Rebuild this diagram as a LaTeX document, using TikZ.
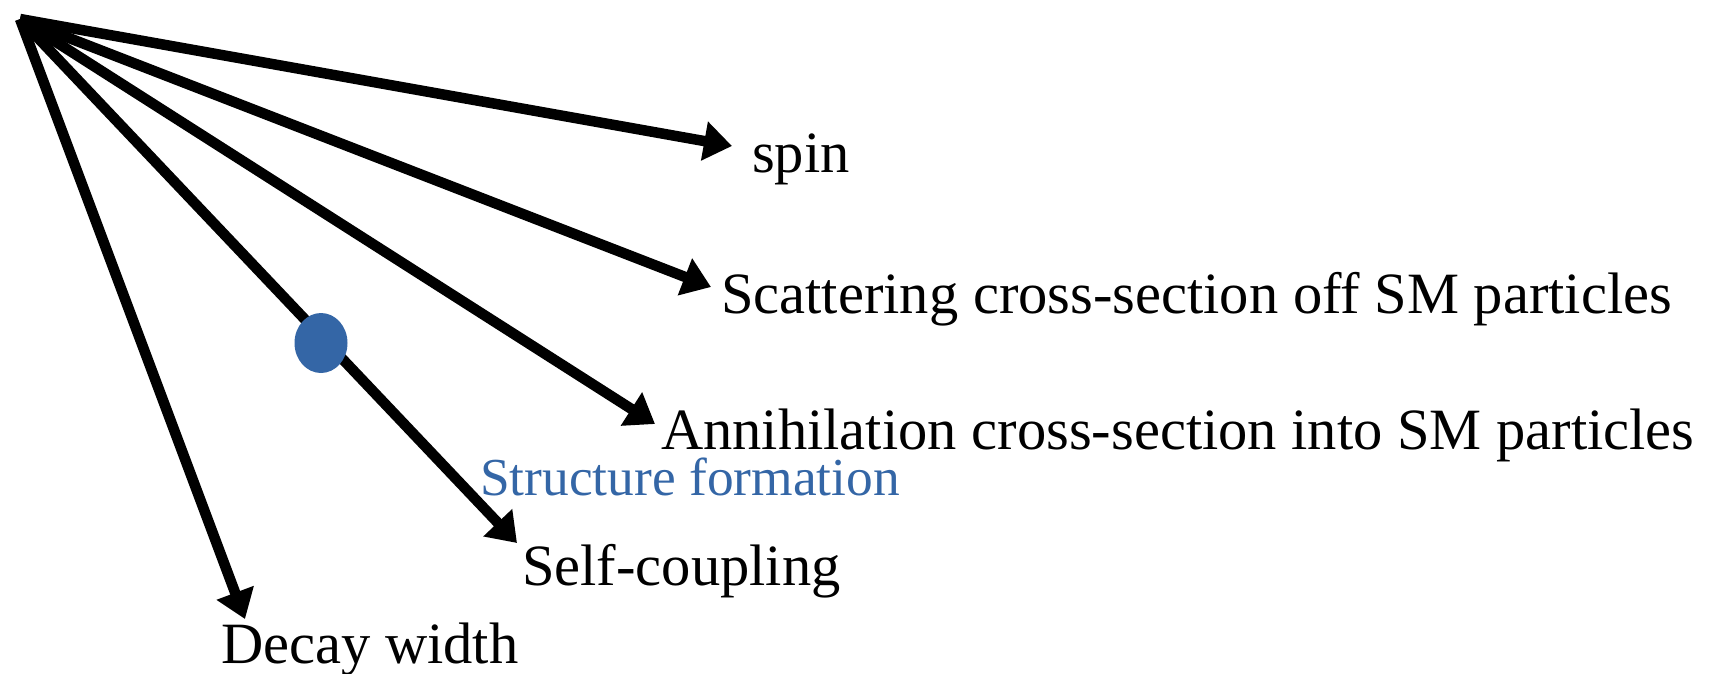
\documentclass[tikz,border=0pt]{standalone}
\usepackage{fontspec}
\setmainfont{Liberation Serif}
\usetikzlibrary{arrows.meta,shapes.geometric}
\definecolor{dotblue}{RGB}{52,102,166}
\begin{document}
\begin{tikzpicture}[x=1pt,y=-1pt,
  ray/.style={line width=10.5pt,-{Triangle[length=28pt,width=38pt]}},
  label/.style={anchor=base west,inner sep=0pt,font=\fontsize{58.5}{62}\selectfont},
  bluelabel/.style={anchor=base west,inner sep=0pt,text=dotblue,font=\fontsize{53.4}{57}\selectfont},
  blob/.style={ellipse,fill=dotblue,draw=none,minimum width=53pt,minimum height=60pt,inner sep=0pt}]
\useasboundingbox (0,0) rectangle (1716,673);

% common origin of all rays and their tips
\coordinate (o) at (20,19);
\coordinate (tspin) at (732,146);
\coordinate (tscat) at (711,287);
\coordinate (tann) at (655,424);
\coordinate (tself) at (517,543);
\coordinate (tdecay) at (245,619);

\draw[ray] (o) -- (tspin);
\draw[ray] (o) -- (tscat);
\draw[ray] (o) -- (tann);
\draw[ray] (o) -- (tself);
\draw[ray] (o) -- (tdecay);

% marker on the self-coupling ray
\node[blob] (dot) at (321,343) {};

% labels
\node[label] (spin) at (752,172) {spin};
\node[label] (scat) at (721,313) {Scattering cross-section off SM particles};
\node[label] (ann) at (661,449) {Annihilation cross-section into SM particles};
\node[bluelabel] (struct) at (480,495) {Structure formation};
\node[label] (self) at (522,585) {Self-coupling};
\node[label] (decay) at (221,663) {Decay width};
\end{tikzpicture}
\end{document}
